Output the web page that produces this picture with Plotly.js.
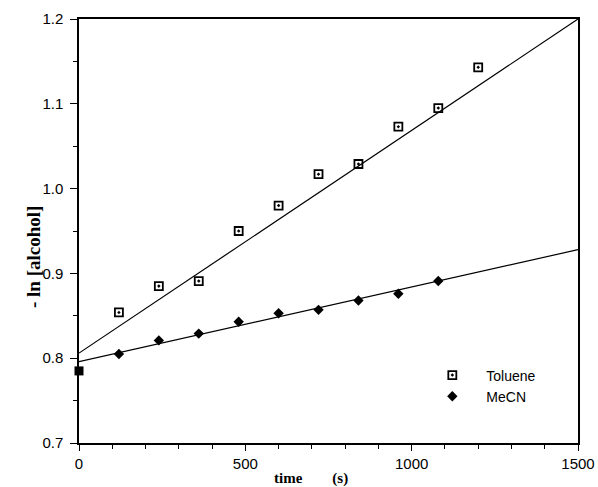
<!DOCTYPE html>
<html>
<head>
<meta charset="utf-8">
<script src="https://cdn.plot.ly/plotly-3.0.1.min.js"></script>
<style>html,body{margin:0;padding:0;background:#fff;}#chart{width:598px;height:487px;}</style>
</head>
<body>
<div id="chart"></div>
<script>
// Data
const timeS = [120, 240, 360, 480, 600, 720, 840, 960, 1080, 1200];
const toluene = [0.854, 0.885, 0.891, 0.950, 0.980, 1.017, 1.029, 1.073, 1.095, 1.143];
const mecnTime = [120, 240, 360, 480, 600, 720, 840, 960, 1080];
const mecn = [0.805, 0.821, 0.829, 0.843, 0.853, 0.857, 0.868, 0.876, 0.891];
const startTime = [0];
const startValue = [0.785];
const fitX = [0, 1500];
const tolueneFit = [0.806, 1.2];
const mecnFit = [0.796, 0.928];
const seriesNames = ["Toluene", "MeCN"];

const sansFont = "Liberation Sans, Arial, sans-serif";
const serifFont = "Liberation Serif, Times New Roman, serif";

const traces = [
  {x: fitX, y: tolueneFit, mode: "lines", line: {color: "#000", width: 1.2}, showlegend: false, hoverinfo: "skip"},
  {x: fitX, y: mecnFit, mode: "lines", line: {color: "#000", width: 1.2}, showlegend: false, hoverinfo: "skip"},
  {x: timeS, y: toluene, mode: "markers", name: seriesNames[0],
   marker: {symbol: "square-open-dot", size: 8, color: "#000", line: {color: "#000", width: 1.8}}},
  {x: mecnTime, y: mecn, mode: "markers", name: seriesNames[1],
   marker: {symbol: "diamond", size: 8, color: "#000"}},
  {x: startTime, y: startValue, mode: "markers", showlegend: false,
   marker: {symbol: "square", size: 9, color: "#000"}, cliponaxis: false}
];

const layout = {
  width: 598, height: 487,
  margin: {l: 79, r: 20, t: 19, b: 44, pad: 0},
  paper_bgcolor: "#fff", plot_bgcolor: "#fff",
  showlegend: true,
  legend: {x: 0.68, y: 0.197, xanchor: "left", yanchor: "top", bgcolor: "rgba(0,0,0,0)",
           font: {family: sansFont, size: 14, color: "#000"}, itemwidth: 58},
  xaxis: {
    range: [0, 1500], dtick: 500, tick0: 0,
    showgrid: false, zeroline: false,
    showline: true, linecolor: "#000", linewidth: 1.6, mirror: true,
    ticks: "outside", ticklen: 6, tickwidth: 1, tickcolor: "#000",
    minor: {dtick: 100, ticks: "outside", ticklen: 4, tickcolor: "#000", showgrid: false},
    tickfont: {family: sansFont, size: 15, color: "#000"}
  },
  yaxis: {
    range: [0.7, 1.2], dtick: 0.1, tick0: 0.7, tickformat: ".1f",
    showgrid: false, zeroline: false,
    showline: true, linecolor: "#000", linewidth: 1.6, mirror: true,
    ticks: "outside", ticklen: 7, tickwidth: 1, tickcolor: "#000",
    minor: {dtick: 0.05, ticks: "outside", ticklen: 4, tickcolor: "#000", showgrid: false},
    tickfont: {family: sansFont, size: 15, color: "#000"},
    ticklabelstandoff: 4
  },
  annotations: [
    {text: "<b>time        (s)</b>", xref: "paper", yref: "paper", x: (311 - 79) / 499, y: -0.083,
     xanchor: "center", yanchor: "middle", showarrow: false,
     font: {family: serifFont, size: 15, color: "#000"}},
    {text: "<b>- ln [alcohol]</b>", xref: "paper", yref: "paper", x: (33 - 79) / 499, y: (443 - 257) / 424,
     xanchor: "center", yanchor: "middle", showarrow: false, textangle: -90,
     font: {family: serifFont, size: 19, color: "#000"}}
  ]
};

Plotly.newPlot("chart", traces, layout, {displayModeBar: false, staticPlot: true});
</script>
</body>
</html>
